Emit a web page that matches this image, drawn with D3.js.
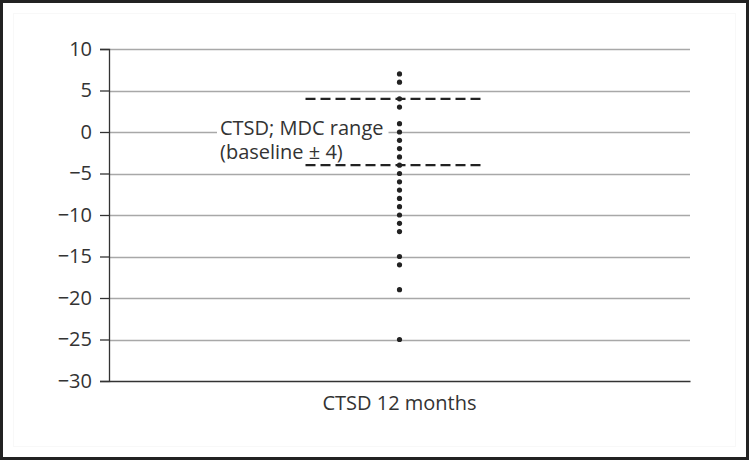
<!DOCTYPE html>
<html>
<head>
<meta charset="utf-8">
<script src="https://cdn.jsdelivr.net/npm/d3@7"></script>
<style>
  body { margin: 0; background: #fff; }
  svg { display: block; font-family: "Open Sans", "Noto Sans", sans-serif; }
</style>
</head>
<body>
<div id="chart"></div>
<script>
// data
var category = "CTSD 12 months";
var values = [7, 6, 4, 3, 1, 0, -1, -2, -3, -4, -5, -6, -7, -8, -9, -10, -11, -12, -15, -16, -19, -25];
var yTicks = [10, 5, 0, -5, -10, -15, -20, -25, -30];
var mdcRange = [4, -4];
var noteLines = ["CTSD; MDC range", "(baseline \u00b1 4)"];

var w = 749, h = 460;
var margin = {left: 109, right: 59, top: 49, bottom: 79};
var fontSize = "20px";

var svg = d3.select("#chart")
  .append("svg")
  .attr("width", w)
  .attr("height", h);

// frame
svg.append("rect")
  .attr("x", 1.5).attr("y", 1.5)
  .attr("width", w - 3).attr("height", h - 3)
  .attr("fill", "#fff")
  .attr("stroke", "#222")
  .attr("stroke-width", 3);

svg.append("rect")
  .attr("x", 13.5).attr("y", 13.5)
  .attr("width", w - 27).attr("height", h - 27)
  .attr("fill", "none")
  .attr("stroke", "#f8f8f8")
  .attr("stroke-width", 1);

var y = d3.scaleLinear()
  .domain([-30, 10])
  .range([h - margin.bottom, margin.top]);

var x = d3.scaleBand()
  .domain([category])
  .range([margin.left, w - margin.right]);

//gridlines//
svg.append("g")
  .selectAll("line")
  .data(yTicks.filter(function(d) { return d != -30; }))
  .enter()
  .append("line")
  .attr("x1", margin.left)
  .attr("x2", w - margin.right)
  .attr("y1", function(d) { return Math.round(y(d)) + 0.5; })
  .attr("y2", function(d) { return Math.round(y(d)) + 0.5; })
  .attr("stroke", "#a8a8a8")
  .attr("stroke-width", 1.3);

//y axis//
var yAxis = svg.append("g")
  .attr("transform", "translate(" + margin.left + ",0)")
  .call(d3.axisLeft(y).tickValues(yTicks).tickSize(9).tickPadding(8)
    .tickFormat(function(d) { return d < 0 ? "\u2212" + Math.abs(d) : d; }));
yAxis.selectAll("line").attr("stroke", "#333").attr("stroke-width", 1.3);
yAxis.select(".domain").attr("stroke", "#333").attr("stroke-width", 1.3);
yAxis.selectAll("text")
  .attr("font-size", fontSize)
  .attr("font-family", "'Open Sans', 'Noto Sans', sans-serif")
  .attr("fill", "#333");

//x axis//
var xAxis = svg.append("g")
  .attr("transform", "translate(0," + y(-30) + ")")
  .call(d3.axisBottom(x).tickSize(0).tickPadding(15));
xAxis.select(".domain").attr("stroke", "#333").attr("stroke-width", 1.3);
xAxis.selectAll("text")
  .attr("font-size", fontSize)
  .attr("font-family", "'Open Sans', 'Noto Sans', sans-serif")
  .attr("fill", "#333");

var cx = x(category) + x.bandwidth() / 2;

//note text with white background//
var note = svg.append("g");
note.append("rect")
  .attr("x", 217)
  .attr("y", y(0) - 12)
  .attr("width", cx - 11 - 217)
  .attr("height", 24)
  .attr("fill", "#fff");
note.selectAll("text")
  .data(noteLines)
  .enter()
  .append("text")
  .text(function(d) { return d; })
  .attr("x", 220)
  .attr("y", function(d, i) { return y(0) + 2.5 + i * 24.5; })
  .attr("font-size", fontSize)
  .attr("fill", "#333");

//MDC dashed lines//
svg.selectAll(".mdc")
  .data(mdcRange)
  .enter()
  .append("line")
  .attr("class", "mdc")
  .attr("x1", cx - 94)
  .attr("x2", cx + 81)
  .attr("y1", function(d) { return y(d); })
  .attr("y2", function(d) { return y(d); })
  .attr("stroke", "#222")
  .attr("stroke-width", 2.2)
  .attr("stroke-dasharray", "10,5");

//dots//
svg.selectAll(".dot")
  .data(values)
  .enter()
  .append("circle")
  .attr("class", "dot")
  .attr("cx", cx)
  .attr("cy", function(d) { return y(d); })
  .attr("r", 2.6)
  .attr("fill", "#222");
</script>
</body>
</html>
